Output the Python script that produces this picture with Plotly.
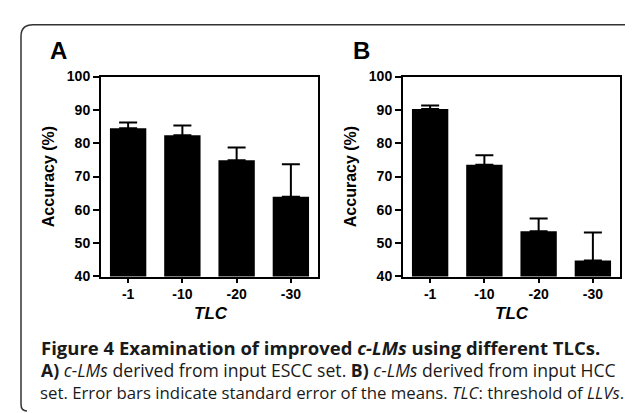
import plotly.graph_objects as go

W, H = 633, 413

# ---- data ----
categories = ["-1", "-10", "-20", "-30"]
acc_escc = [84.5, 82.4, 74.9, 63.9]
err_escc = [1.7, 2.9, 3.8, 9.8]
acc_hcc = [90.3, 73.5, 53.6, 44.8]
err_hcc = [1.0, 2.9, 3.8, 8.4]
y_ticks = [40, 50, 60, 70, 80, 90, 100]


def px(x):
    return x / W


def py(y):
    return 1 - y / H


ARIAL = "Liberation Sans, Arial, sans-serif"
AX_FONT = dict(family=ARIAL, size=14, color="black")

fig = go.Figure()
for i, (vals, errs) in enumerate([(acc_escc, err_escc), (acc_hcc, err_hcc)]):
    sfx = "" if i == 0 else "2"
    fig.add_trace(go.Bar(
        x=categories, y=vals,
        xaxis="x" + sfx, yaxis="y" + sfx,
        marker=dict(color="black", line=dict(width=0)),
        error_y=dict(type="data", symmetric=False, array=errs,
                     arrayminus=[0] * len(errs), color="black",
                     thickness=2, width=9),
        showlegend=False,
    ))

common_x = dict(type="category", tickvals=categories,
                ticktext=[f"<b>{c}</b>" for c in categories],
                showline=True, linecolor="black", linewidth=2,
                mirror=True, ticks="outside", ticklen=4, tickwidth=2, tickcolor="black",
                tickfont=AX_FONT, showgrid=False, zeroline=False, fixedrange=True)
common_y = dict(range=[40, 100], tickvals=y_ticks,
                ticktext=[f"<b>{t}</b>" for t in y_ticks],
                showline=True, linecolor="black",
                linewidth=2, mirror=True, ticks="outside", ticklen=6, tickwidth=2,
                tickcolor="black", tickfont=AX_FONT, showgrid=False, zeroline=False,
                fixedrange=True,
                title=dict(text="<b>Accuracy (%)</b>", standoff=8,
                           font=dict(family=ARIAL, size=16, color="black")))

ydom = [py(271), py(63)]
fig.update_layout(
    width=W, height=H,
    margin=dict(l=0, r=0, t=0, b=0),
    paper_bgcolor="white", plot_bgcolor="white",
    bargap=0.33,
    xaxis=dict(common_x, domain=[px(93), px(310)], anchor="y"),
    yaxis=dict(common_y, domain=ydom, anchor="x"),
    xaxis2=dict(common_x, domain=[px(395), px(612)], anchor="y2"),
    yaxis2=dict(common_y, domain=ydom, anchor="x2"),
)

# outer rounded frame (top and left sides)
frame = (f"M {px(630)},{py(9)} L {px(25)},{py(9)} "
         f"Q {px(13)},{py(9)} {px(13)},{py(21)} "
         f"L {px(13)},{py(404)} Q {px(13)},{py(411)} {px(19)},{py(411)}")
fig.add_shape(type="path", path=frame, xref="paper", yref="paper",
              line=dict(color="#333333", width=1.5))
fig.add_shape(type="path",
              path=f"M {px(622)},{py(9)} Q {px(628)},{py(9)} {px(630)},{py(12)}",
              xref="paper", yref="paper", line=dict(color="#333333", width=1.5))

annots = []
# panel letters
for letter, x in [("A", 40), ("B", 343)]:
    annots.append(dict(text=f"<b>{letter}</b>", x=px(x), y=py(36), xref="paper",
                       yref="paper", xanchor="left", yanchor="middle", showarrow=False,
                       font=dict(family=ARIAL, size=24, color="black")))
# x axis titles
for x in [203, 504]:
    annots.append(dict(text="<b><i>TLC</i></b>", x=px(x), y=py(309), xref="paper",
                       yref="paper", xanchor="center", yanchor="middle", showarrow=False,
                       font=dict(family=ARIAL, size=17, color="black")))
# caption
CAP = "Open Sans, Noto Sans, sans-serif"
annots.append(dict(
    text="<b>Figure 4 Examination of improved <i>c-LMs</i> using different TLCs.</b>",
    x=px(31), y=py(345), xref="paper", yref="paper", xanchor="left", yanchor="middle",
    showarrow=False, font=dict(family=CAP, size=18.5, color="#1a1a1a")))
annots.append(dict(
    text="<b>A)</b> <i>c-LMs</i> derived from input ESCC set. <b>B)</b> <i>c-LMs</i> derived from input HCC",
    x=px(31), y=py(368), xref="paper", yref="paper", xanchor="left", yanchor="middle",
    showarrow=False, font=dict(family=CAP, size=17.6, color="#1a1a1a")))
annots.append(dict(
    text="set. Error bars indicate standard error of the means. <i>TLC</i>: threshold of <i>LLVs</i>.",
    x=px(30), y=py(392), xref="paper", yref="paper", xanchor="left", yanchor="middle",
    showarrow=False, font=dict(family=CAP, size=16.8, color="#1a1a1a")))
fig.update_layout(annotations=annots)

fig.write_html("out.html")
